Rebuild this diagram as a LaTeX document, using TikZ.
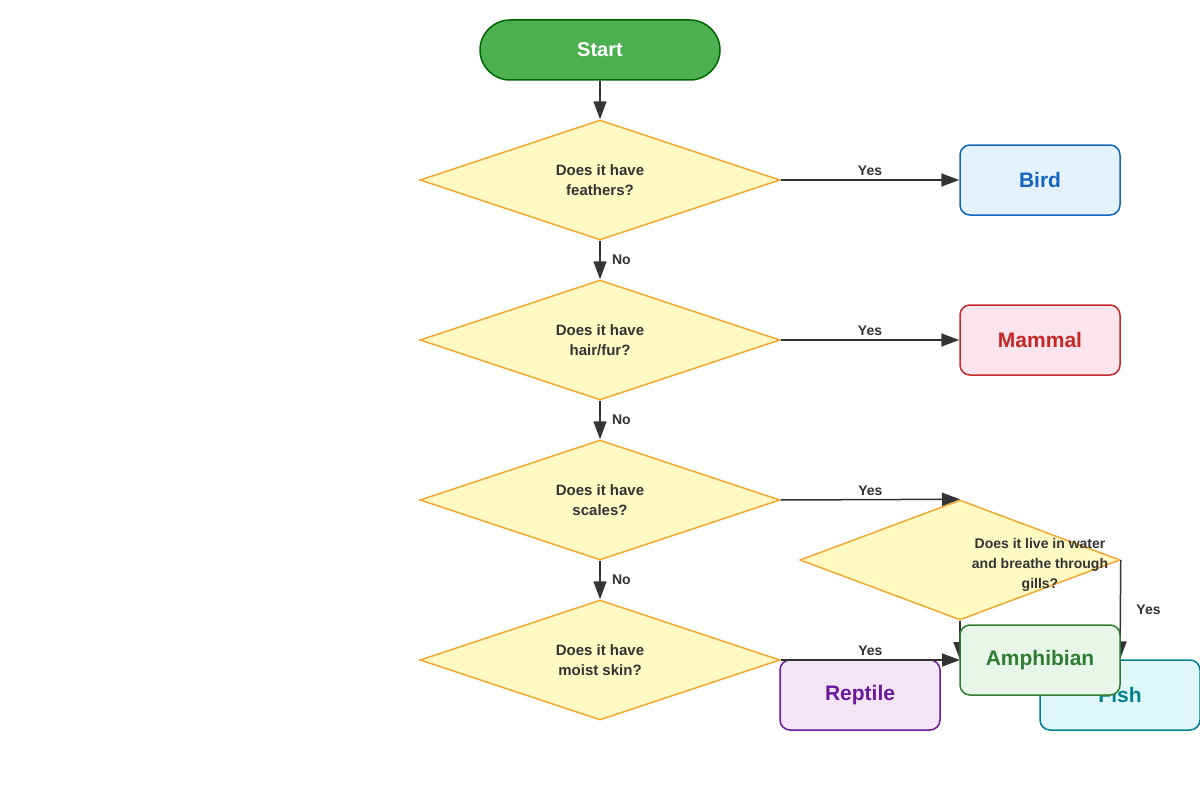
\documentclass[tikz,border=0pt]{standalone}
\usepackage{fontspec}
\setmainfont{Liberation Sans}
\usetikzlibrary{shapes.geometric, arrows.meta, positioning}
\definecolor{lineC}{HTML}{333333}
\definecolor{decF}{HTML}{FFF9C4}
\definecolor{decD}{HTML}{F0A830}
\tikzset{
    my-start/.style={
        draw=green!40!black, fill={rgb,255:red,76;green,175;blue,80}, line width=1.5pt,
        rounded corners=30pt, minimum width=240pt, minimum height=60pt,
        text=white, font=\fontsize{20}{24}\selectfont\bfseries
    },
    my-decision/.style={
        diamond, draw=decD, fill=decF, line width=1.5pt, inner sep=0pt,
        minimum width=360pt, minimum height=120pt, align=center, text=lineC,
        font=\fontsize{15}{20}\selectfont\bfseries
    },
    my-result/.style={
        rounded corners=10pt, line width=1.5pt, minimum width=160pt,
        minimum height=70pt, font=\fontsize{21}{24}\selectfont\bfseries
    },
    my-arrow/.style={
        draw=lineC, line width=1.5pt, -{Triangle[length=18pt, width=13pt]}
    },
    my-label/.style={
        text=lineC, font=\fontsize{14}{16}\selectfont\bfseries
    },
}

\begin{document}
\begin{tikzpicture}[x=1pt, y=-1pt]

        \useasboundingbox (0,0) rectangle (1200,800);

        % START
        \node[my-start]     (START) at (600,50)   {Start};

        % DECISIONS
        \node[my-decision]  (FEATH) at (600,180)  {Does it have\\feathers?};
        \node[my-decision]  (HAIR)  at (600,340)  {Does it have\\hair/fur?};
        \node[my-decision]  (SCALE) at (600,500)  {Does it have\\scales?};
        \node[my-decision]  (MOIST) at (600,660)  {Does it have\\moist skin?};
        \node[my-decision, minimum width=320pt] (GILLS) at (960,560) {};
        \node[my-label, align=center, font=\fontsize{14}{20}\selectfont\bfseries]
                            (GILLST) at (1040,565) {Does it live in water\\and breathe through\\gills?};

        % RESULTS
        \node[my-result, draw={rgb,255:red,21;green,101;blue,192}, fill={rgb,255:red,227;green,242;blue,253},
              text={rgb,255:red,21;green,101;blue,192}]    (BIRD)   at (1040,180) {Bird};
        \node[my-result, draw={rgb,255:red,198;green,40;blue,40}, fill={rgb,255:red,252;green,228;blue,236},
              text={rgb,255:red,198;green,40;blue,40}]     (MAMMAL) at (1040,340) {Mammal};
        \node[my-result, draw={rgb,255:red,106;green,27;blue,154}, fill={rgb,255:red,243;green,229;blue,245},
              text={rgb,255:red,106;green,27;blue,154}]    (REPT)   at (860,695)  {Reptile};
        \node[my-result, draw={rgb,255:red,0;green,131;blue,143}, fill={rgb,255:red,224;green,247;blue,250},
              text={rgb,255:red,0;green,131;blue,143}]     (FISH)   at (1120,695) {Fish};

        % CONNECTIONS
        \draw[my-arrow] (START) -- (FEATH.north);
        \draw[my-arrow] (FEATH.east) -- node[my-label, above] {Yes} (BIRD.west);
        \draw[my-arrow] (FEATH.south) -- node[my-label, right=8pt] {No} (HAIR.north);
        \draw[my-arrow] (HAIR.east) -- node[my-label, above] {Yes} (MAMMAL.west);
        \draw[my-arrow] (HAIR.south) -- node[my-label, right=8pt] {No} (SCALE.north);
        \draw[my-arrow] (SCALE.east) -- node[my-label, above] {Yes} (GILLS.north);
        \draw[my-arrow] (SCALE.south) -- node[my-label, right=8pt] {No} (MOIST.north);
        \coordinate (AMPHW) at (960,660);
        \draw[my-arrow] (MOIST.east) -- node[my-label, above] {Yes} (AMPHW);
        \draw[my-arrow] (GILLS.south) -- (AMPHW);
        \draw[my-arrow] (GILLS.east) -- node[my-label, right=12pt] {Yes} (FISH.north);

        % AMPHIBIAN ON TOP
        \node[my-result, draw={rgb,255:red,46;green,125;blue,50}, fill={rgb,255:red,232;green,245;blue,233},
              text={rgb,255:red,46;green,125;blue,50}]     (AMPH)   at (1040,660) {Amphibian};

    \end{tikzpicture}
\end{document}
